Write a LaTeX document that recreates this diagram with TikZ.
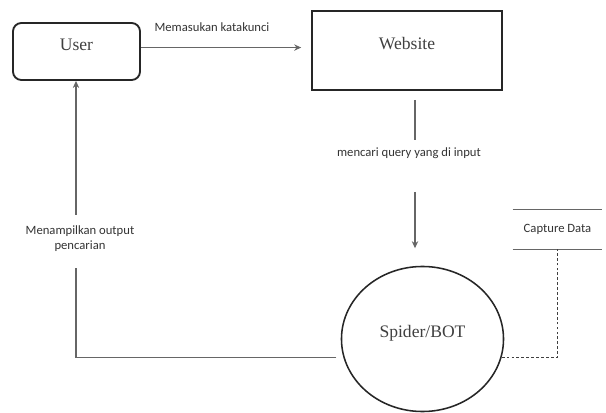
\documentclass[tikz,border=0pt]{standalone}
\usepackage{fontspec}
\setmainfont{Liberation Serif}
\setsansfont{Carlito}
\usetikzlibrary{shapes.geometric,arrows.meta,positioning}
\tikzset{box/.style={draw=black!85,line width=1.3pt,inner sep=0pt},conn/.style={draw=black!60,line width=1.1pt},arr/.style={conn,-{Stealth[length=5pt,width=4.5pt]}},lbl/.style={font=\sffamily\fontsize{9}{10.5}\selectfont,text=black!80,align=center},txt/.style={text=black!75}}
\begin{document}
\begin{tikzpicture}[x=.025cm,y=-.025cm,font=\fontsize{12.5}{15}\selectfont]
\useasboundingbox (0,0) rectangle (606,413);
\node[box,rounded corners=6pt,minimum width=3.175cm,minimum height=1.425cm,label={[txt,yshift=4.6pt]center:User}] (user) at (76.5,51.5){};
\node[box,minimum width=4.75cm,minimum height=1.975cm,label={[txt,yshift=5.3pt]center:Website}] (web) at (407,50.5){};
\node[box,ellipse,line width=1.1pt,minimum width=4.05cm,minimum height=3.625cm,label={[txt,yshift=4.3pt]center:Spider/BOT}] (spider) at (422.5,339){};
\node[lbl,minimum width=2.225cm,minimum height=.975cm] (cap) at (557.5,229.5){Capture Data};
\draw[conn] (cap.north west)--(cap.north east) (cap.south west)--(cap.south east);
\node[lbl] (kata) at (212,27){Memasukan katakunci};
\node[lbl] (query) at (409,153){mencari query yang di input};
\node[lbl] (tampil) at (80,239){Menampilkan output\\pencarian};
\coordinate (q1) at (415,140);\coordinate (q2) at (415,192);
\coordinate (m1) at (76,215);\coordinate (m2) at (76,268);
\draw[arr,shorten >=7pt] ([yshift=2.8pt]user.east)--([yshift=2.8pt]user.east -| web.west);
\draw[conn,shorten <=6.4pt] (q1 |- web.south)--(q1);
\draw[arr,shorten >=12.4pt] (q2)--(q2 |- spider.north);
\draw[conn,shorten <=5pt] (spider.193) -| (m2);
\draw[arr] (m1)--(m1 |- user.south);
\draw[conn,draw=black!75,line width=1.1pt,dash pattern=on 2pt off 1.5pt] (spider.-13) -| (cap.south);
\end{tikzpicture}
\end{document}
